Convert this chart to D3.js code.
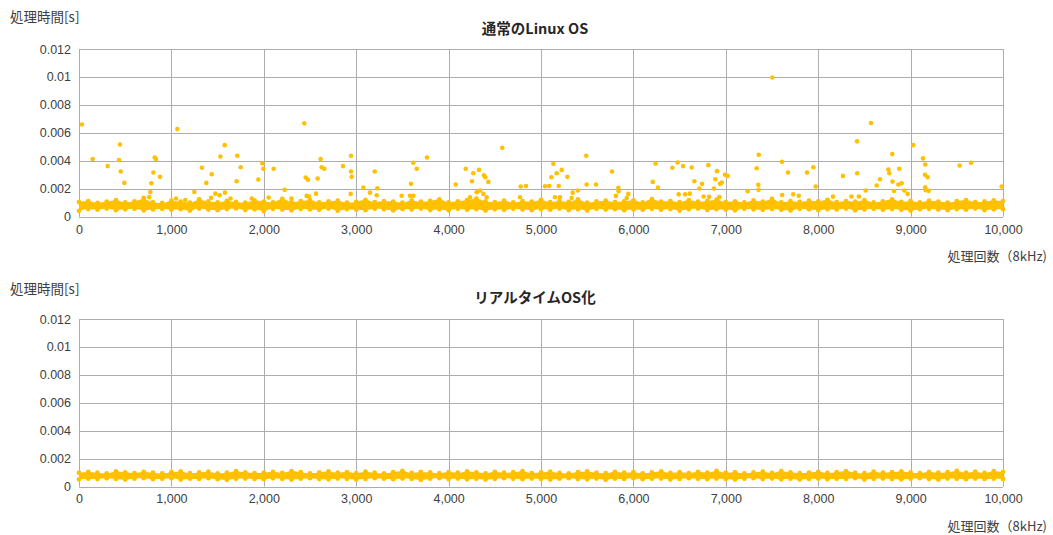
<!DOCTYPE html>
<html>
<head>
<meta charset="UTF-8">
<title>index</title>
<script src="https://d3js.org/d3.v7.min.js"></script>
<style>
  body { margin:0; background:#fff; }
  svg { display:block; font-family:"Noto Sans CJK JP","Noto Sans",sans-serif; }
  .tick text { fill:#404040; font-size:12.5px; }
</style>
</head>
<body>
<script>
// x: sample index, y: processing time (ms in arrays, shown as seconds)
var xTicks = [0,1000,2000,3000,4000,5000,6000,7000,8000,9000,10000];
var yTicks = [0,0.002,0.004,0.006,0.008,0.01,0.012];

// dense band, sampled every 100 runs (low / high edge of the cluster, ms)
var bandIdx = d3.range(0, 10001, 100);

var topHi = [1.05,1.12,0.99,1.08,1.18,1.02,1.10,1.25,1.04,0.98,
1.15,1.07,1.01,1.22,1.09,1.03,1.13,1.06,1.00,1.17,
1.08,1.02,1.28,1.05,1.11,1.19,1.03,1.09,1.14,1.01,
1.06,1.21,1.04,1.12,1.08,1.00,1.16,1.07,1.13,1.24,
1.03,1.10,1.18,1.30,1.09,1.05,1.14,1.02,1.11,1.07,
1.20,1.04,1.12,1.06,1.23,1.01,1.09,1.15,1.05,1.10,
1.17,1.03,1.26,1.08,1.12,1.04,1.19,1.07,1.13,1.22,
1.05,1.10,1.02,1.16,1.08,1.27,1.03,1.11,1.06,1.14,
1.09,1.21,1.04,1.12,1.07,1.18,1.02,1.10,1.24,1.06,
1.13,1.03,1.15,1.08,1.01,1.11,1.19,1.05,1.09,1.16,1.12];

var topLo = [0.42,0.55,0.50,0.58,0.47,0.53,0.56,0.45,0.52,0.57,
0.49,0.54,0.44,0.58,0.51,0.47,0.55,0.59,0.48,0.53,
0.40,0.56,0.51,0.46,0.57,0.52,0.49,0.58,0.43,0.54,
0.50,0.47,0.56,0.53,0.45,0.55,0.51,0.58,0.48,0.52,
0.46,0.57,0.50,0.54,0.44,0.53,0.49,0.56,0.51,0.47,
0.55,0.50,0.58,0.48,0.53,0.45,0.56,0.51,0.54,0.47,
0.52,0.49,0.57,0.50,0.55,0.44,0.53,0.58,0.48,0.54,
0.51,0.46,0.56,0.52,0.49,0.55,0.50,0.45,0.57,0.53,
0.48,0.54,0.51,0.58,0.46,0.52,0.56,0.49,0.55,0.50,
0.44,0.53,0.57,0.51,0.47,0.55,0.50,0.58,0.48,0.53,0.54];

var bottomHi = [0.98,1.05,1.00,0.95,1.08,1.02,0.97,1.06,0.99,0.94,
1.03,1.09,0.96,1.01,1.07,0.95,0.99,1.10,1.02,0.97,
1.00,1.06,0.98,1.11,1.03,0.95,1.01,1.08,0.99,1.04,
0.96,1.07,1.00,0.94,1.03,1.12,0.98,1.05,1.01,0.96,
1.04,0.99,1.09,1.02,0.95,1.06,0.99,1.03,1.10,0.97,
1.01,1.07,0.98,0.95,1.04,1.09,1.00,0.96,1.06,0.99,
1.03,0.95,1.01,1.08,0.98,1.04,0.97,1.06,1.00,1.12,
0.99,1.03,0.95,1.01,1.07,0.98,1.10,1.02,0.96,1.00,
1.06,0.98,1.03,1.11,1.00,0.96,1.07,0.99,1.04,1.09,
1.01,0.97,1.06,0.99,1.03,1.12,1.00,1.07,0.98,1.10,1.04];

var bottomLo = [0.52,0.57,0.54,0.59,0.55,0.50,0.57,0.60,0.53,0.56,
0.59,0.51,0.57,0.55,0.60,0.53,0.49,0.57,0.58,0.55,
0.53,0.59,0.55,0.51,0.57,0.60,0.54,0.52,0.58,0.56,
0.51,0.55,0.60,0.57,0.53,0.58,0.55,0.48,0.57,0.60,
0.54,0.58,0.52,0.57,0.50,0.55,0.60,0.56,0.53,0.58,
0.55,0.51,0.57,0.60,0.54,0.52,0.58,0.49,0.57,0.55,
0.60,0.53,0.57,0.58,0.51,0.55,0.60,0.56,0.53,0.58,
0.55,0.50,0.57,0.60,0.54,0.58,0.52,0.57,0.51,0.55,
0.58,0.53,0.57,0.55,0.60,0.50,0.56,0.58,0.54,0.52,
0.57,0.60,0.55,0.51,0.58,0.56,0.53,0.58,0.55,0.57,0.55];

// points outside the band, normal Linux OS: [run, ms]
var topOutliers = [[32,6.6],[148,4.12],[310,3.62],[433,4.05],[444,5.17],[451,3.23],[491,2.42],
[700,1.35],[760,1.4],[772,1.77],[783,2.39],[805,3.16],[819,4.24],[833,4.12],[877,2.85],
[1050,1.3],[1064,6.27],[1150,1.2],[1248,1.77],[1300,1.25],[1331,3.5],[1378,2.42],[1430,1.35],[1436,3.04],
[1476,1.65],[1522,1.53],[1530,4.31],[1577,5.12],[1580,1.72],[1640,1.3],[1706,2.54],[1713,4.36],
[1750,3.54],[1870,1.3],[1941,2.66],[1984,3.83],[1995,3.43],[2053,1.37],[2107,3.43],[2226,1.92],
[2300,1.3],[2438,6.68],[2453,2.8],[2464,1.49],[2478,2.64],[2490,1.45],[2565,1.65],[2583,2.73],
[2615,4.12],[2626,3.54],[2655,3.43],[2857,3.62],[2944,4.36],[2944,3.23],[2951,2.85],[2940,1.63],
[3077,2.08],[3149,1.72],[3200,3.23],[3222,1.53],[3229,2.03],[3492,1.5],[3582,1.5],[3593,2.35],
[3618,3.86],[3620,1.5],[3655,3.43],[3766,4.24],[4077,2.3],[4185,3.43],[4232,1.39],[4253,2.54],
[4267,3.11],[4304,1.75],[4329,3.35],[4340,1.87],[4376,1.63],[4383,2.97],[4397,2.82],[4412,1.39],
[4430,2.49],[4581,4.93],[4773,1.39],[4780,2.16],[4838,2.2],[5043,2.18],[5090,2.2],[5112,2.82],
[5134,3.79],[5152,1.39],[5170,3.11],[5192,2.2],[5206,1.39],[5224,3.35],[5285,2.85],[5332,1.34],
[5343,1.72],[5400,1.87],[5490,4.36],[5494,2.3],[5595,2.3],[5768,3.23],[5810,1.49],[5837,2.06],
[5840,1.82],[5927,1.34],[5945,1.63],[6209,2.49],[6241,3.81],[6266,2.08],[6421,3.5],[6479,3.88],
[6490,1.6],[6537,3.62],[6560,1.6],[6610,1.65],[6631,3.52],[6660,2.54],[6713,2.01],[6743,2.35],
[6760,1.45],[6811,3.69],[6820,1.42],[6872,2.01],[6887,2.68],[6905,3.26],[6930,1.4],[6937,2.35],
[6956,2.44],[6991,3.0],[7020,2.92],[7237,1.82],[7334,3.47],[7352,2.28],[7354,1.92],[7356,4.43],
[7504,9.96],[7608,3.93],[7610,1.55],[7673,3.16],[7730,1.6],[7790,1.5],[7879,3.16],[7947,3.54],
[7973,2.16],[8160,1.44],[8268,2.92],[8360,1.45],[8420,5.39],[8422,3.11],[8440,1.45],[8514,1.87],
[8571,6.7],[8633,2.23],[8669,2.68],[8759,3.38],[8770,3.11],[8802,4.48],[8804,2.51],[8820,1.84],
[8867,2.3],[8878,3.43],[8903,2.39],[8932,1.87],[8968,1.63],[9029,5.12],[9134,4.17],[9156,3.0],
[9158,2.1],[9159,3.74],[9165,1.9],[9185,2.82],[9195,1.85],[9531,3.66],[9654,3.86],[9986,2.16]];

var dotColor = "#FFC000";
var W = 1053, H = 535;

var svg = d3.select("body").append("svg").attr("width", W).attr("height", H);

drawChart({ top: 49, bottom: 216.7, title: "通常のLinux OS", hi: topHi, lo: topLo, extra: topOutliers, yTitle: 18, titleY: 30 });
drawChart({ top: 319, bottom: 486.6, title: "リアルタイムOS化", hi: bottomHi, lo: bottomLo, extra: [], yTitle: 290, titleY: 299 });

function drawChart(c) {
  var x = d3.scaleLinear().domain([0, 10000]).range([79, 1003]);
  var y = d3.scaleLinear().domain([0, 0.012]).range([c.bottom, c.top]);
  var g = svg.append("g");

  // grid
  g.selectAll(".hg").data(yTicks).enter().append("line")
    .attr("x1", 79).attr("x2", 1003)
    .attr("y1", function(d){ return Math.round(y(d)) + 0.5; })
    .attr("y2", function(d){ return Math.round(y(d)) + 0.5; })
    .attr("stroke", "#adadad").attr("stroke-width", 1);
  g.selectAll(".vg").data(xTicks).enter().append("line")
    .attr("x1", function(d){ return Math.round(x(d)) + 0.5; })
    .attr("x2", function(d){ return Math.round(x(d)) + 0.5; })
    .attr("y1", c.top).attr("y2", c.bottom)
    .attr("stroke", "#adadad").attr("stroke-width", 1);

  // axes (labels only)
  var ya = g.append("g").attr("transform", "translate(79,0)")
    .call(d3.axisLeft(y).tickValues(yTicks).tickSize(0).tickPadding(8).tickFormat(function(d){ return String(d); }));
  ya.select(".domain").remove();
  var xa = g.append("g").attr("transform", "translate(0," + c.bottom + ")")
    .call(d3.axisBottom(x).tickValues(xTicks).tickSize(0).tickPadding(8).tickFormat(d3.format(",")));
  xa.select(".domain").remove();

  // band
  var band = bandIdx.map(function(d, i){ return { i: d, lo: c.lo[i] / 1000, hi: c.hi[i] / 1000 }; });
  g.append("path").datum(band)
    .attr("fill", dotColor)
    .attr("d", d3.area().curve(d3.curveMonotoneX).x(function(d){ return x(d.i); })
      .y0(function(d){ return y(d.lo); }).y1(function(d){ return y(d.hi); }));
  g.selectAll(".bh").data(band).enter().append("circle")
    .attr("cx", function(d){ return x(d.i); }).attr("cy", function(d){ return y(d.hi); })
    .attr("r", 2.4).attr("fill", dotColor);
  g.selectAll(".bl").data(band).enter().append("circle")
    .attr("cx", function(d){ return x(d.i); }).attr("cy", function(d){ return y(d.lo); })
    .attr("r", 2.4).attr("fill", dotColor);

  // outliers
  g.selectAll(".pt").data(c.extra).enter().append("circle")
    .attr("cx", function(d){ return x(d[0]); }).attr("cy", function(d){ return y(d[1] / 1000); })
    .attr("r", 2.3).attr("fill", dotColor);

  // texts
  svg.append("text").attr("x", 535).attr("y", c.titleY).attr("text-anchor", "middle")
    .attr("dominant-baseline", "middle").attr("font-size", 14.5).attr("font-weight", "bold")
    .attr("fill", "#262626").text(c.title);
  svg.append("text").attr("x", 10).attr("y", c.yTitle).attr("dominant-baseline", "middle")
    .attr("font-size", 13.5).attr("fill", "#404040").text("処理時間[s]");
  svg.append("text").attr("x", 1047).attr("y", c.bottom + 41).attr("text-anchor", "end")
    .attr("dominant-baseline", "middle").attr("font-size", 13).attr("fill", "#404040").text("処理回数（8kHz)");
}
</script>
</body>
</html>
